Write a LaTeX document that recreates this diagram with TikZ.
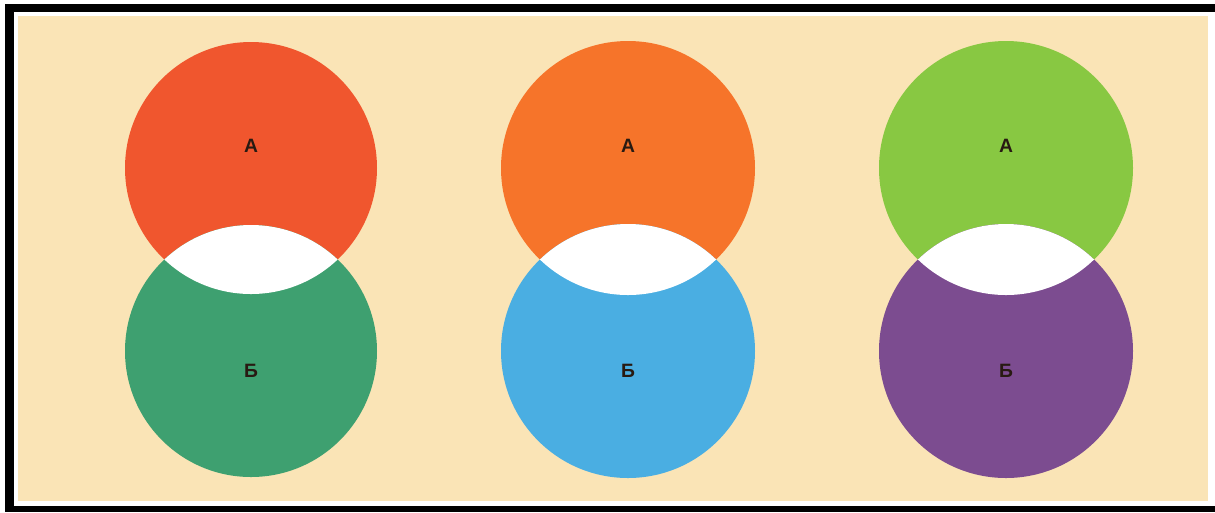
\documentclass[tikz,border=0pt]{standalone}
\usepackage{fontspec}
\setmainfont{Liberation Sans}
\definecolor{paper}{RGB}{250,228,182}
\definecolor{redA}{RGB}{240,86,46}
\definecolor{greenB}{RGB}{62,160,112}
\definecolor{orangeA}{RGB}{246,116,42}
\definecolor{blueB}{RGB}{74,174,226}
\definecolor{limeA}{RGB}{136,200,66}
\definecolor{purpleB}{RGB}{124,76,144}
\definecolor{ink}{RGB}{40,26,18}
\tikzset{letter/.style={font=\bfseries\fontsize{11}{11}\selectfont,text=ink,inner sep=0pt}}
\begin{document}
\begin{tikzpicture}[x=0.02cm,y=-0.02cm]
\useasboundingbox (0,0) rectangle (1215,512);
\fill[white] (0,0) rectangle (1215,512);
\fill[black] (5,4) rectangle (1215,12);
\fill[black] (5,4) rectangle (14,512);
\fill[black] (5,506) rectangle (1215,512);
\fill[paper] (18,16) rectangle (1208,501);

% left pair
\fill[redA] (251,168) circle[radius=126];
\fill[greenB] (251,351) circle[radius=126];
\begin{scope}
\clip (251,168) circle[radius=126];
\fill[white] (251,351) circle[radius=126];
\end{scope}
\node[letter] (a1) at (251,146) {А};
\node[letter] (b1) at (251,371) {Б};

% middle pair
\fill[orangeA] (628,168) circle[radius=127];
\fill[blueB] (628,351) circle[radius=127];
\begin{scope}
\clip (628,168) circle[radius=127];
\fill[white] (628,351) circle[radius=127];
\end{scope}
\node[letter] (a2) at (628,146) {А};
\node[letter] (b2) at (628,371) {Б};

% right pair
\fill[limeA] (1006,168) circle[radius=127];
\fill[purpleB] (1006,351) circle[radius=127];
\begin{scope}
\clip (1006,168) circle[radius=127];
\fill[white] (1006,351) circle[radius=127];
\end{scope}
\node[letter] (a3) at (1006,146) {А};
\node[letter] (b3) at (1006,371) {Б};
\end{tikzpicture}
\end{document}
